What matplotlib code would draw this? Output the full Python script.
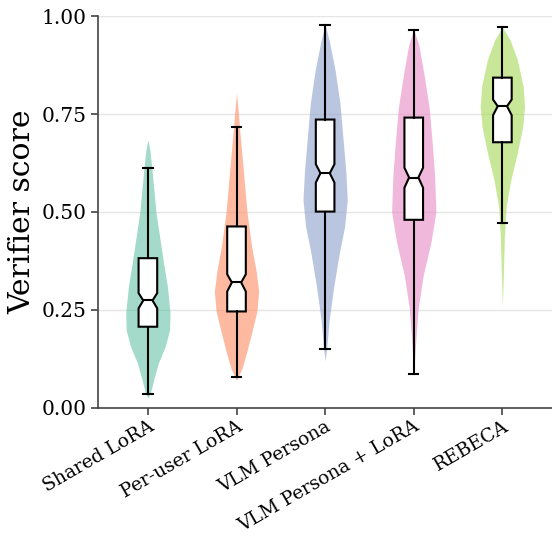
import matplotlib.pyplot as plt
import numpy as np

# --- data ---
methods = ['Shared LoRA', 'Per-user LoRA', 'VLM Persona', 'VLM Persona + LoRA', 'REBECA']
colors = ['#66c2a5', '#fc8d62', '#8da0cb', '#e78ac3', '#a6d854']

# box stats: whisker low, q1, median, q3, whisker high, notch low, notch high
whislo = [0.036, 0.079, 0.151, 0.087, 0.473]
q1 = [0.207, 0.246, 0.501, 0.480, 0.678]
med = [0.274, 0.320, 0.599, 0.588, 0.770]
q3 = [0.382, 0.463, 0.736, 0.741, 0.843]
whishi = [0.611, 0.716, 0.977, 0.964, 0.971]
cilo = [0.254, 0.297, 0.575, 0.562, 0.747]
cihi = [0.293, 0.341, 0.622, 0.613, 0.787]

# violin outlines: score levels and relative density (1 = widest)
violin_y = [
    [0.025, 0.037, 0.071, 0.114, 0.156, 0.199, 0.242, 0.310, 0.369, 0.429, 0.497, 0.611, 0.658, 0.684],
    [0.070, 0.076, 0.101, 0.144, 0.195, 0.246, 0.297, 0.348, 0.416, 0.501, 0.611, 0.713, 0.756, 0.803],
    [0.120, 0.156, 0.224, 0.310, 0.395, 0.463, 0.531, 0.607, 0.692, 0.777, 0.862, 0.939, 0.979],
    [0.088, 0.169, 0.254, 0.339, 0.424, 0.501, 0.594, 0.679, 0.764, 0.849, 0.926, 0.966],
    [0.258, 0.352, 0.437, 0.514, 0.582, 0.650, 0.718, 0.769, 0.820, 0.888, 0.939, 0.972],
]
violin_w = [
    [0.00, 0.11, 0.26, 0.47, 0.78, 0.98, 1.00, 0.88, 0.71, 0.55, 0.37, 0.18, 0.09, 0.00],
    [0.00, 0.05, 0.25, 0.47, 0.70, 0.92, 1.00, 0.89, 0.67, 0.47, 0.30, 0.14, 0.08, 0.00],
    [0.00, 0.08, 0.18, 0.39, 0.64, 0.88, 1.00, 0.93, 0.80, 0.67, 0.45, 0.18, 0.00],
    [0.00, 0.09, 0.20, 0.43, 0.78, 1.00, 0.94, 0.83, 0.70, 0.47, 0.23, 0.00],
    [0.00, 0.05, 0.09, 0.17, 0.38, 0.67, 0.92, 1.00, 0.94, 0.68, 0.35, 0.00],
]

plt.rcParams['font.family'] = 'DejaVu Serif'
fig, ax = plt.subplots(figsize=(5.52, 5.38), dpi=100)
fig.subplots_adjust(left=0.178, right=1.0, bottom=0.242, top=0.970)

pos = np.arange(len(methods))
for i in range(len(methods)):
    y = np.array(violin_y[i])
    w = np.array(violin_w[i]) * 0.25
    ax.fill_betweenx(y, pos[i] - w, pos[i] + w, color=colors[i], alpha=0.6,
                     linewidth=0, zorder=1)

stats = []
for i in range(len(methods)):
    stats.append({'whislo': whislo[i], 'q1': q1[i], 'med': med[i], 'q3': q3[i],
                  'whishi': whishi[i], 'cilo': cilo[i], 'cihi': cihi[i], 'fliers': []})
ax.bxp(stats, positions=pos, widths=0.21, shownotches=True, showfliers=False,
       patch_artist=True,
       boxprops=dict(facecolor='white', edgecolor='black', linewidth=1.5),
       medianprops=dict(color='black', linewidth=1.5),
       whiskerprops=dict(color='black', linewidth=1.5),
       capprops=dict(color='black', linewidth=1.5), zorder=3)

ax.set_xlim(-0.56, 4.56)
ax.set_ylim(0, 1.0)
ax.set_yticks([0, 0.25, 0.5, 0.75, 1.0])
ax.set_yticklabels(['0.00', '0.25', '0.50', '0.75', '1.00'], fontsize=14.5)
ax.set_xticks(pos)
ax.set_xticklabels(methods, rotation=30, ha='right', rotation_mode='anchor', fontsize=13.5)
ax.set_ylabel('Verifier score', fontsize=21.5)
ax.yaxis.grid(True, color='#e5e5e5', linewidth=1)
ax.set_axisbelow(True)
for s in ['top', 'right']:
    ax.spines[s].set_visible(False)
for s in ['left', 'bottom']:
    ax.spines[s].set_color('#444444')
    ax.spines[s].set_linewidth(1.2)
ax.tick_params(colors='#444444', labelcolor='black', width=1.2, length=5)
ax.tick_params(axis='x', pad=2)

plt.savefig('out.png')
